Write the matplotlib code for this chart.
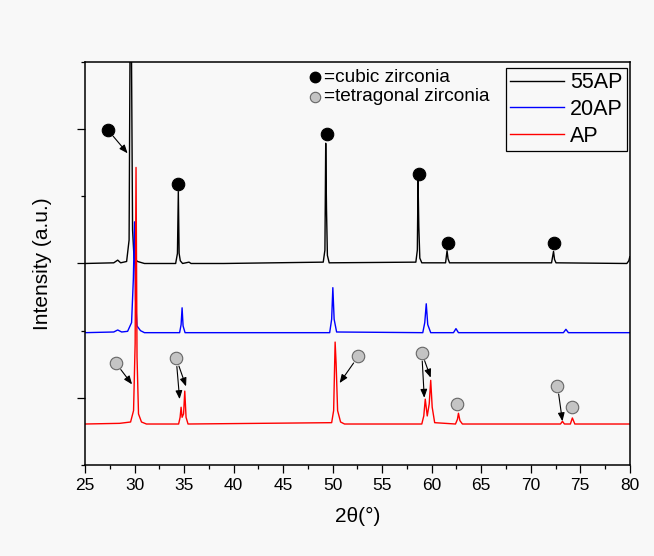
import matplotlib
matplotlib.use("Agg")
import numpy as np
import matplotlib.pyplot as plt
from matplotlib.ticker import MultipleLocator, FixedLocator

plt.rcParams["font.family"] = ["Liberation Sans", "DejaVu Sans"]

# XRD traces, intensity above each trace's own baseline (a.u.)
x_55ap = [25.0, 27.9, 28.3, 28.6, 29.2, 29.45, 29.55, 29.68, 29.8, 29.95, 30.3, 31.0,
          34.15, 34.33, 34.42, 34.5, 34.62, 34.85, 35.5, 35.7, 39.0,
          49.05, 49.22, 49.3, 49.38, 49.47, 49.65,
          58.4, 58.55, 58.62, 58.7, 58.8, 59.0,
          61.4, 61.55, 61.65, 61.8,
          72.1, 72.3, 72.4, 72.55, 79.7, 79.9, 80.0]
y_55ap = [0.0, 0.01, 0.05, 0.01, 0.03, 0.35, 3.4, 3.4, 0.5, 0.08, 0.03, 0.0,
          0.0, 0.15, 1.07, 0.15, 0.04, 0.0, 0.02, 0.0, 0.0,
          0.02, 0.2, 1.79, 0.8, 0.12, 0.01,
          0.02, 0.2, 1.24, 0.55, 0.08, 0.01,
          0.01, 0.19, 0.07, 0.01,
          0.01, 0.18, 0.06, 0.01, 0.0, 0.04, 0.1]

x_20ap = [25.0, 27.9, 28.3, 28.7, 29.3, 29.7, 29.88, 30.0, 30.1, 30.25, 30.6, 31.0,
          34.55, 34.7, 34.8, 34.9, 35.1,
          49.7, 49.9, 50.02, 50.15, 50.4,
          59.1, 59.3, 59.45, 59.6, 59.9,
          62.2, 62.45, 62.7,
          73.3, 73.55, 73.8, 80.0]
y_20ap = [0.0, 0.01, 0.04, 0.01, 0.02, 0.15, 0.8, 1.65, 0.5, 0.1, 0.03, 0.0,
          0.0, 0.12, 0.37, 0.1, 0.0,
          0.0, 0.2, 0.67, 0.2, 0.01,
          0.0, 0.15, 0.43, 0.12, 0.0,
          0.0, 0.06, 0.0,
          0.0, 0.05, 0.0, 0.0]

x_ap = [25.0, 28.5, 29.6, 29.9, 30.06, 30.15, 30.25, 30.4, 30.7, 31.2,
        34.45, 34.6, 34.7, 34.8, 34.95, 35.07, 35.2, 35.4,
        49.9, 50.1, 50.25, 50.35, 50.5, 50.8, 51.2,
        59.0, 59.2, 59.35, 59.55, 59.75, 59.9, 60.05, 60.3,
        62.4, 62.6, 62.7, 62.85, 63.1,
        73.0, 73.2, 73.4, 74.0, 74.2, 74.45, 80.0]
y_ap = [0.0, 0.01, 0.03, 0.2, 1.2, 3.82, 1.0, 0.15, 0.03, 0.0,
        0.0, 0.1, 0.25, 0.1, 0.15, 0.49, 0.1, 0.0,
        0.02, 0.2, 1.22, 0.9, 0.2, 0.03, 0.0,
        0.0, 0.12, 0.37, 0.12, 0.3, 0.65, 0.25, 0.02,
        0.0, 0.07, 0.16, 0.05, 0.0,
        0.0, 0.04, 0.0, 0.0, 0.09, 0.0, 0.0]

series = [("55AP", x_55ap, y_55ap, 3.0, "black"),
          ("20AP", x_20ap, y_20ap, 1.97, "#0000ff"),
          ("AP", x_ap, y_ap, 0.61, "#ff0000")]

# phase markers: (marker x, marker y, list of arrow targets)
cubic_marks = [(27.3, 4.99, [(29.3, 4.64)]),
               (34.4, 4.18, []),
               (49.4, 4.93, []),
               (58.7, 4.33, []),
               (61.6, 3.30, []),
               (72.3, 3.30, [])]
tetra_marks = [(28.1, 1.52, [(29.75, 1.2)]),
               (34.2, 1.59, [(34.55, 0.98), (35.2, 1.17)]),
               (52.6, 1.62, [(50.7, 1.22)]),
               (59.0, 1.67, [(59.25, 1.0), (59.9, 1.3)]),
               (62.6, 0.91, []),
               (72.7, 1.18, [(73.2, 0.65)]),
               (74.2, 0.86, [])]

bg = "#f8f8f8"
fig = plt.figure(figsize=(6.54, 5.56), dpi=100, facecolor=bg)
ax = fig.add_axes([0.130, 0.1637, 0.833, 0.7248], facecolor=bg)

lines = []
for name, xs, ys, off, col in series:
    ln, = ax.plot(xs, np.array(ys) + off, color=col, lw=1.0, label=name)
    lines.append(ln)

def draw_marks(marks, fc, ec):
    for mx, my, targets in marks:
        for tx, ty in targets:
            ax.annotate("", xy=(tx, ty), xytext=(mx, my),
                        arrowprops=dict(arrowstyle="-|>,head_length=0.5,head_width=0.2",
                                        color="black", lw=0.8, shrinkA=6, shrinkB=0))
        ax.plot(mx, my, "o", ms=9, mfc=fc, mec=ec, mew=0.8, zorder=5)

draw_marks(cubic_marks, "black", "black")
draw_marks(tetra_marks, "#c4c4c4", "#666666")

# phase key
ax.plot(48.2, 5.77, "o", ms=7.5, mfc="black", mec="black", zorder=5)
ax.plot(48.2, 5.48, "o", ms=7.5, mfc="#c4c4c4", mec="#666666", mew=0.8, zorder=5)
ax.text(49.1, 5.77, "=cubic zirconia", fontsize=13.7, va="center", ha="left")
ax.text(49.1, 5.48, "=tetragonal zirconia", fontsize=13.7, va="center", ha="left")

leg = ax.legend(handles=lines, loc="upper right", fontsize=15.5, frameon=True,
                fancybox=False, edgecolor="black", facecolor=bg, framealpha=1,
                bbox_to_anchor=(627 / 654, 1 - 68 / 556), bbox_transform=fig.transFigure,
                borderaxespad=0, handlelength=2.5, handletextpad=0.28,
                labelspacing=0.26, borderpad=0.2)
leg.get_frame().set_linewidth(0.9)

ax.set_xlim(25, 80)
ax.set_ylim(0, 6)
ax.xaxis.set_major_locator(MultipleLocator(5))
ax.xaxis.set_minor_locator(MultipleLocator(2.5))
ax.yaxis.set_major_locator(FixedLocator([1, 3, 5]))
ax.yaxis.set_minor_locator(FixedLocator([0, 2, 4, 6]))
ax.set_yticklabels([])
ax.tick_params(which="both", direction="out", top=False, right=False, width=0.9)
ax.tick_params(which="major", length=6, labelsize=12.5)
ax.tick_params(which="minor", length=3)
for sp in ax.spines.values():
    sp.set_linewidth(1.1)

ax.set_xlabel("2θ(°)", fontsize=15, labelpad=10)
ax.set_ylabel("Intensity (a.u.)", fontsize=15, labelpad=14)

fig.savefig("out.png", dpi=100, facecolor=bg)
